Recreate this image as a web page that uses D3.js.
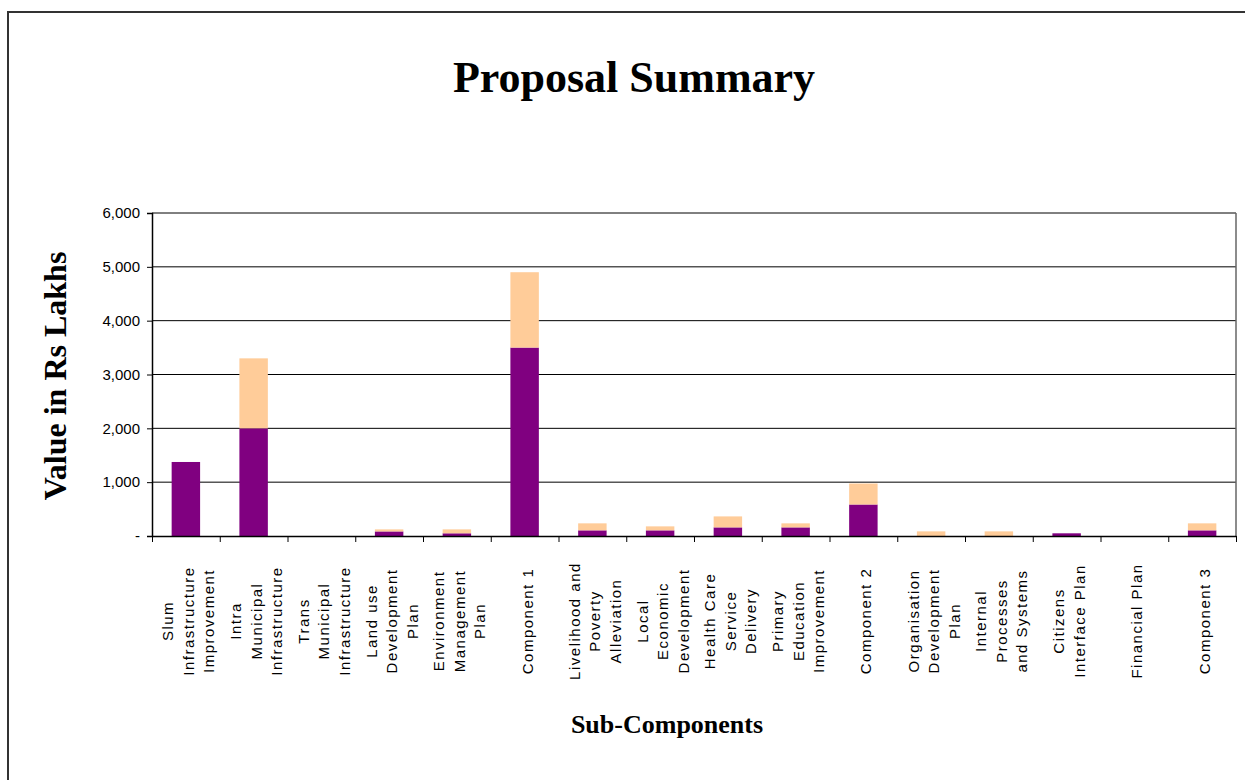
<!DOCTYPE html>
<meta charset="utf-8">
<style>
body { margin: 0; background: #fff; }
.tick text { font: 15px "Liberation Sans", Arial, sans-serif; fill: #000; }
.cat { font: 15px "Liberation Sans", Arial, sans-serif; letter-spacing: 1.5px; fill: #000; }
.title { font: bold 44px "Liberation Serif", "Times New Roman", serif; }
.axis-title { font-family: "Liberation Serif", "Times New Roman", serif; font-weight: bold; }
</style>
<body>
<script src="https://cdnjs.cloudflare.com/ajax/libs/d3/7.8.5/d3.min.js"></script>
<script>

// sub-components, "\n" marks the line breaks used under the axis
const categories = [
  "Slum\nInfrastructure\nImprovement",
  "Intra\nMunicipal\nInfrastructure",
  "Trans\nMunicipal\nInfrastructure",
  "Land use\nDevelopment\nPlan",
  "Environment\nManagement\nPlan",
  "Component 1",
  "Livelihood and\nPoverty\nAlleviation",
  "Local\nEconomic\nDevelopment",
  "Health Care\nService\nDelivery",
  "Primary\nEducation\nImprovement",
  "Component 2",
  "Organisation\nDevelopment\nPlan",
  "Internal\nProcesses\nand Systems",
  "Citizens\nInterface Plan",
  "Financial Plan",
  "Component 3"
];

// lower (purple) and upper (peach) parts of each stacked bar, Rs Lakhs
const lowerValues = [1375, 2000, 0, 85, 50, 3500, 105, 105, 160, 160, 585, 0, 0, 50, 0, 105];
const upperValues = [0, 1300, 0, 38, 73, 1400, 130, 74, 204, 75, 390, 86, 86, 0, 0, 130];

const yTicks = [0, 1000, 2000, 3000, 4000, 5000, 6000];
const seriesColors = ["#800080", "#ffcc99"];

let width = 1245,
    height = 780,
    margin = {top: 213, right: 9, bottom: 244, left: 152};

let svg = d3.select("body").append("svg")
    .attr("width", width)
    .attr("height", height);

// outer chart frame (only top and left edges fall inside the picture)
svg.append("rect")
    .attr("x", 8).attr("y", 12)
    .attr("width", width + 20).attr("height", height + 20)
    .attr("fill", "none")
    .attr("stroke", "#333")
    .attr("stroke-width", 2);

let x = d3.scaleBand()
    .domain(d3.range(categories.length))
    .range([margin.left, width - margin.right])
    .paddingInner(0.58)
    .paddingOuter(0.29);

let bandStep = (width - margin.right - margin.left) / categories.length;

let y = d3.scaleLinear()
    .domain([0, 6000])
    .range([height - margin.bottom, margin.top]);

// gridlines
svg.append("g")
  .selectAll("line")
  .data(yTicks.slice(1))
  .enter().append("line")
    .attr("x1", margin.left)
    .attr("x2", width - margin.right)
    .attr("y1", d => y(d))
    .attr("y2", d => y(d))
    .attr("stroke", "#000")
    .attr("stroke-width", 1);

// right edge of plot area
svg.append("line")
    .attr("x1", width - margin.right).attr("x2", width - margin.right)
    .attr("y1", y(6000)).attr("y2", y(0))
    .attr("stroke", "#666")
    .attr("stroke-width", 1.5);

// stacked bars
let rows = categories.map((c, i) => ({i: i, lower: lowerValues[i], upper: upperValues[i]}));
let stack = d3.stack().keys(["lower", "upper"])(rows);

svg.append("g")
  .selectAll("g")
  .data(stack)
  .enter().append("g")
    .attr("fill", (d, k) => seriesColors[k])
  .selectAll("rect")
  .data(d => d)
  .enter().append("rect")
    .attr("x", d => x(d.data.i))
    .attr("width", x.bandwidth())
    .attr("y", d => y(d[1]))
    .attr("height", d => y(d[0]) - y(d[1]));

// y axis
let yAxis = d3.axisLeft(y)
    .tickValues(yTicks)
    .tickSize(5)
    .tickPadding(7)
    .tickFormat(d => d === 0 ? "-" : d3.format(",")(d));

svg.append("g")
    .attr("transform", "translate(" + margin.left + ",0)")
    .call(yAxis)
    .call(g => g.select(".domain").attr("stroke", "#000").attr("stroke-width", 1.5))
    .call(g => g.selectAll(".tick line").attr("stroke", "#000"));

// x axis: baseline plus ticks at band boundaries
let xAxis = d3.axisBottom(d3.scaleLinear().domain([0, categories.length]).range([margin.left, width - margin.right]))
    .tickValues(d3.range(categories.length + 1))
    .tickSize(6)
    .tickSizeOuter(0)
    .tickFormat("");

svg.append("g")
    .attr("transform", "translate(0," + y(0) + ")")
    .call(xAxis)
    .call(g => g.select(".domain").attr("stroke", "#000").attr("stroke-width", 1.5))
    .call(g => g.selectAll(".tick line").attr("stroke", "#000"));

// rotated category labels
let lineGap = 20.5;
svg.append("g")
  .selectAll("text")
  .data(categories)
  .enter().append("text")
    .attr("class", "cat")
    .attr("text-anchor", "middle")
    .attr("transform", (d, i) => "translate(" + (margin.left + (i + 0.5) * bandStep + 8) + ",621)rotate(-90)")
    .each(function(d) {
      let lines = d.split("\n");
      let t = d3.select(this);
      lines.forEach((l, j) => {
        t.append("tspan")
          .attr("x", 0)
          .attr("y", (j - (lines.length - 1) / 2) * lineGap)
          .text(l);
      });
    });

// titles
svg.append("text")
    .attr("class", "title")
    .attr("x", 634)
    .attr("y", 92)
    .attr("text-anchor", "middle")
    .text("Proposal Summary");

svg.append("text")
    .attr("class", "axis-title")
    .attr("transform", "translate(66,376)rotate(-90)")
    .attr("text-anchor", "middle")
    .style("font-size", "32px")
    .text("Value in Rs Lakhs");

svg.append("text")
    .attr("class", "axis-title")
    .attr("x", 667)
    .attr("y", 733)
    .attr("text-anchor", "middle")
    .style("font-size", "26px")
    .text("Sub-Components");

</script>
